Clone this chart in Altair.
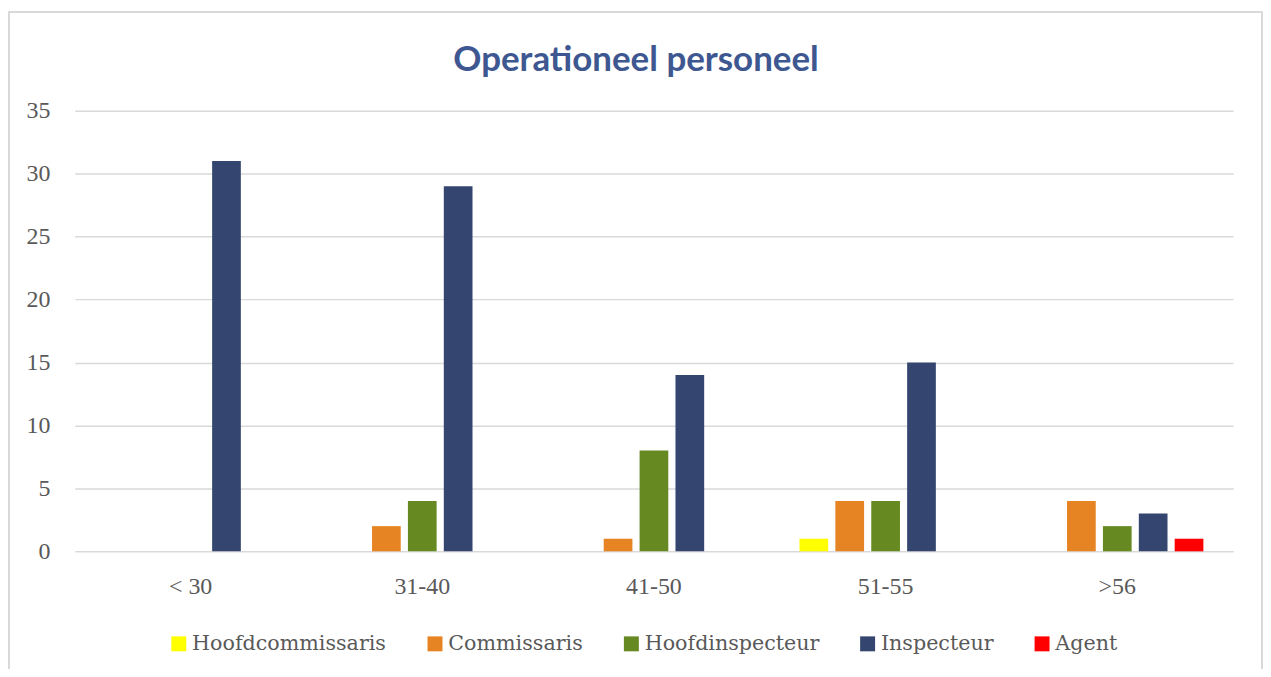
import altair as alt
import pandas as pd

title_text = "Operationeel personeel"
categories = ["< 30", "31-40", "41-50", "51-55", ">56"]
series = ["Hoofdcommissaris", "Commissaris", "Hoofdinspecteur", "Inspecteur", "Agent"]
colors = ["#FFFF00", "#E68323", "#668A21", "#344670", "#FF0000"]

hoofdcommissaris = [0, 0, 0, 1, 0]
commissaris = [0, 2, 1, 4, 4]
hoofdinspecteur = [0, 4, 8, 4, 2]
inspecteur = [31, 29, 14, 15, 3]
agent = [0, 0, 0, 0, 1]

y_ticks = [0, 5, 10, 15, 20, 25, 30, 35]

rows = []
for s, vals in zip(series, [hoofdcommissaris, commissaris, hoofdinspecteur, inspecteur, agent]):
    for c, v in zip(categories, vals):
        rows.append({"Leeftijd": c, "Functie": s, "Aantal": v})
df = pd.DataFrame(rows)

SERIF = "Liberation Serif"
W, H = 1162, 442

bars = alt.Chart(df).mark_bar().encode(
    x=alt.X("Leeftijd:N", sort=categories,
            scale=alt.Scale(paddingInner=0.2255, paddingOuter=0.1127),
            axis=alt.Axis(title=None, labelAngle=0, labelFont=SERIF, labelFontSize=24,
                          labelColor="#595959", labelPadding=23, ticks=False, domain=False,
                          grid=False)),
    xOffset=alt.XOffset("Functie:N", sort=series,
                        scale=alt.Scale(paddingInner=0.2, paddingOuter=0.1)),
    y=alt.Y("Aantal:Q", scale=alt.Scale(domain=[0, 35], nice=False),
            axis=alt.Axis(title=None, values=y_ticks, labelFont=SERIF, labelFontSize=24,
                          labelColor="#595959", labelPadding=25, ticks=False, domain=False,
                          gridColor="#d9d9d9", gridWidth=1.5)),
    color=alt.Color("Functie:N", sort=series,
                    scale=alt.Scale(domain=series, range=colors),
                    legend=alt.Legend(title=None, orient="none", direction="horizontal",
                                      columns=5, legendX=94, legendY=524,
                                      symbolType="square", symbolSize=225,
                                      symbolStrokeWidth=0, labelFont="DejaVu Serif",
                                      labelFontSize=20.7, labelColor="#595959",
                                      labelOffset=3, labelLimit=400, columnPadding=38)),
)

frame = alt.Chart(pd.DataFrame({"a": [0]})).mark_rect(
    fillOpacity=0, stroke="#d9d9d9", strokeWidth=2
).encode(
    x=alt.value(-66), x2=alt.value(1191), y=alt.value(-99), y2=alt.value(620)
)

title = alt.Chart(pd.DataFrame({"t": [title_text]})).mark_text(
    font="Lato", fontSize=35, fontWeight="bold", color="#3E5791",
    align="center", baseline="alphabetic"
).encode(
    text="t:N", x=alt.value(563), y=alt.value(-40)
)

chart = alt.layer(frame, bars, title).properties(
    width=W, height=H,
    autosize=alt.AutoSizeParams(type="none"),
    padding={"left": 67, "top": 102, "right": 30, "bottom": 117},
).configure_view(stroke=None)

chart.save("out.html", embed_options={"renderer": "svg", "actions": False})
